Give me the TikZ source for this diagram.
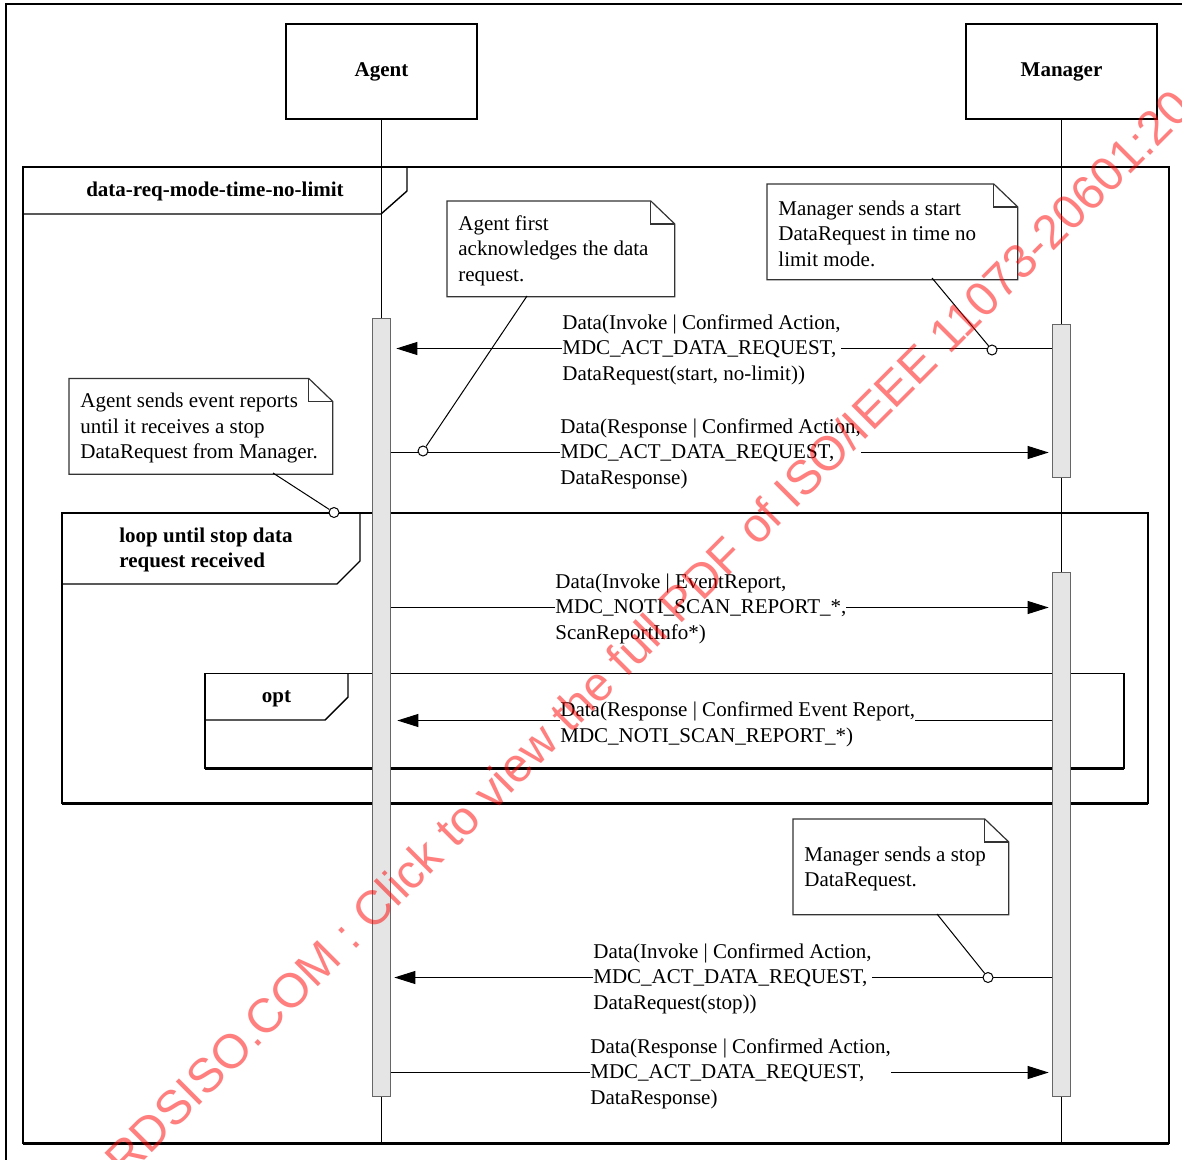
\documentclass[tikz,border=0pt]{standalone}
\usepackage{fontspec}
\setmainfont{Liberation Serif}
\newfontfamily\wmfont{Liberation Sans}
\usetikzlibrary{arrows.meta}
\newcommand\dogear[1]{%
  \draw[notefr] (#1.north west) -- ([xshift=-12pt]#1.north east) -- ([yshift=-11.5pt]#1.north east) -- (#1.south east) -- (#1.south west) -- cycle;
  \draw[notefr] ([xshift=-12pt]#1.north east) -- ([xshift=-12pt,yshift=-11.5pt]#1.north east) -- ([yshift=-11.5pt]#1.north east);}
\begin{document}
\begin{tikzpicture}[x=0.5pt,y=-0.5pt,
  txt/.style={font=\fontsize{10.5}{12.75}\selectfont},
  actor/.style={draw, line width=0.9pt, minimum width=95.5pt, minimum height=47.5pt, inner sep=0, font=\bfseries\fontsize{10.5}{12.75}\selectfont},
  life/.style={line width=0.5pt},
  bar/.style={draw=black!60, fill=black!10, line width=0.6pt, minimum width=9.25pt, inner sep=0},
  frm/.style={line width=0.7pt},
  frmb/.style={line width=1.1pt},
  tab/.style={font=\bfseries\fontsize{10.5}{12.75}\selectfont, align=left, inner sep=0, yshift=-0.9pt},
  msg/.style={line width=0.5pt, -{Triangle[length=10.5pt,width=6.5pt]}, shorten >=1.5pt},
  lbl/.style={txt, fill=white, inner sep=0, align=left, anchor=west, yshift=-0.6pt},
  notebox/.style={inner sep=0, minimum height=47.5pt, anchor=north west},
  notetxt/.style={txt, align=left, inner sep=0, anchor=west, yshift=-0.9pt},
  notefr/.style={line width=0.6pt, draw=black!80},
  pin/.style={line width=0.5pt},
  dot/.style={circle, draw, fill=white, inner sep=0, minimum size=5pt, line width=0.5pt}
]
\useasboundingbox (0,0) rectangle (1182,1160);
% outer frame
\draw[line width=1pt] (5.5,1170) -- (5.5,3.7) -- (1190,3.7);

% actors
\node[actor] (agent) at (381.5,71.5) {\raisebox{-0.9pt}{Agent}};
\node[actor] (manager) at (1061.5,71.5) {\raisebox{-0.9pt}{Manager}};

% main frame
\draw[frm] (23,1143.5) -- (23,167) -- (1169,167) -- (1169,1143.5);
\draw[frmb] (23,1143.5) -- (1169,1143.5);
\draw[frm] (23,214) -- (381,214) -- (407,191) -- (407,167);
\node[tab] (t1) at (215,190) {data-req-mode-time-no-limit};

% loop frame
\draw[frm] (62,803.5) -- (62,513) -- (1148,513) -- (1148,803.5);
\draw[frmb] (62,803.5) -- (1148,803.5);
\draw[frm] (62,584) -- (337,584) -- (360,561) -- (360,513);
\node[tab] (t2) at (206,548) {loop until stop data\\request received};

% opt frame
\draw[frm] (205,768.5) -- (205,673.5) -- (1124,673.5) -- (1124,768.5);
\draw[frmb] (205,768.5) -- (1124,768.5);
\draw[frm] (205,720) -- (325,720) -- (348,697) -- (348,673.5);
\node[tab] (t3) at (276.5,697.5) {opt};

% lifelines
\coordinate (endA) at (381.5,1143.5);
\coordinate (endM) at (1061.5,1143.5);
\draw[life] (agent.south) -- (endA);
\draw[life] (manager.south) -- (endM);

% activation bars
\node[bar, minimum height=389pt, anchor=north] (barA) at (381.5,318) {};
\node[bar, minimum height=76.5pt, anchor=north] (barM1) at (1061.5,324) {};
\node[bar, minimum height=262pt, anchor=north] (barM2) at (1061.5,572) {};

% message rows
\coordinate (r1) at (0,348.5);
\coordinate (r2) at (0,452.5);
\coordinate (r3) at (0,607.5);
\coordinate (r4) at (0,720.5);
\coordinate (r5) at (0,977.5);
\coordinate (r6) at (0,1072.5);

\draw[msg, shorten >=2.5pt] (barM1.west |- r1) -- (barA.east |- r1);
\node[lbl] (l1) at (562,348.5) {Data(Invoke | Confirmed Action,\\MDC\_ACT\_DATA\_REQUEST,\\DataRequest(start, no-limit))};

\draw[msg] (barA.east |- r2) -- (barM1.west |- r2);
\node[lbl] (l2) at (560,452.5) {Data(Response | Confirmed Action,\\MDC\_ACT\_DATA\_REQUEST,\\DataResponse)};

\draw[msg] (barA.east |- r3) -- (barM2.west |- r3);
\node[lbl] (l3) at (555,607.5) {Data(Invoke | EventReport,\\MDC\_NOTI\_SCAN\_REPORT\_*,\\ScanReportInfo*)};

\draw[msg, shorten >=3pt] (barM2.west |- r4) -- (barA.east |- r4);
\node[lbl] (l4) at (560,723) {Data(Response | Confirmed Event Report,\\MDC\_NOTI\_SCAN\_REPORT\_*)};

\draw[msg, shorten >=1.5pt] (barM2.west |- r5) -- (barA.east |- r5);
\node[lbl] (l5) at (593,977.5) {Data(Invoke | Confirmed Action,\\MDC\_ACT\_DATA\_REQUEST,\\DataRequest(stop))};

\draw[msg] (barA.east |- r6) -- (barM2.west |- r6);
\node[lbl] (l6) at (590,1072.5) {Data(Response | Confirmed Action,\\MDC\_ACT\_DATA\_REQUEST,\\DataResponse)};

% notes
\node[notebox, minimum width=113.5pt] (n1) at (447,201) {};
\dogear{n1}
\node[notetxt] (n1t) at ([xshift=5.5pt]n1.west) {Agent first\\acknowledges the data\\request.};

\node[notebox, minimum width=125pt] (n2) at (767,184) {};
\dogear{n2}
\node[notetxt] (n2t) at ([xshift=5.5pt]n2.west) {Manager sends a start\\DataRequest in time no\\limit mode.};

\node[notebox, minimum width=131.5pt] (n3) at (69,378.5) {};
\dogear{n3}
\node[notetxt] (n3t) at ([xshift=5.5pt]n3.west) {Agent sends event reports\\until it receives a stop\\DataRequest from Manager.};

\node[notebox, minimum width=107.5pt] (n4) at (793,819) {};
\dogear{n4}
\node[notetxt] (n4t) at ([xshift=5.5pt]n4.west) {Manager sends a stop\\DataRequest.};

% note connectors
\node[dot] (c1) at (423,451) {};
\node[dot] (c2) at (992,350) {};
\node[dot] (c3) at (334,512.5) {};
\node[dot] (c4) at (988,977.5) {};
\coordinate (p1) at (527,296);
\coordinate (p2) at (932,278);
\coordinate (p3) at (273,473);
\coordinate (p4) at (937,914);
\draw[pin] (p1) -- (c1);
\draw[pin] (p2) -- (c2);
\draw[pin] (p3) -- (c3);
\draw[pin] (p4) -- (c4);

% watermark
\node[rotate=45, anchor=base west, inner sep=0, text=red, text opacity=0.5, font=\wmfont\fontsize{24}{28}\selectfont] (wm) at (125,1180) {RDSISO.COM : Click to view the full PDF of ISO/IEEE 11073-20601:20};
\end{tikzpicture}
\end{document}
